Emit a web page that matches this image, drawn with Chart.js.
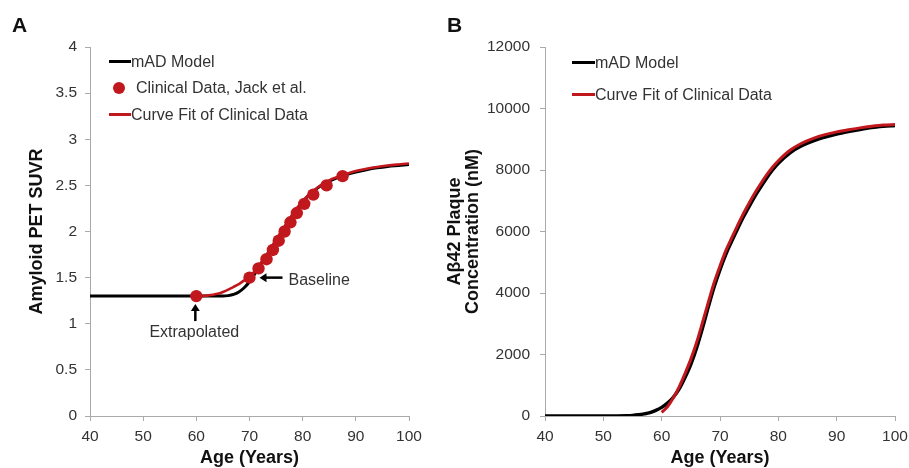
<!DOCTYPE html>
<html>
<head>
<meta charset="utf-8">
<script src="https://cdn.jsdelivr.net/npm/chart.js@4"></script>
<style>
  html, body { margin:0; padding:0; background:#fff; }
  body { width:909px; height:468px; position:relative; overflow:hidden; font-family:"Liberation Sans", Arial, sans-serif; }
  .wrap { position:absolute; top:0; }
  .panel { position:absolute; font-weight:bold; font-size:21px; line-height:21px; color:#111; }
  .leg { position:absolute; font-size:16px; color:#333; white-space:nowrap; line-height:16px; }
  .sw { position:absolute; }
</style>
</head>
<body>
<div class="wrap" style="left:0;width:440px;height:468px;"><canvas id="cA"></canvas></div>
<div class="wrap" style="left:440px;width:469px;height:468px;"><canvas id="cB"></canvas></div>

<div class="panel" style="left:12px;top:14px;">A</div>
<div class="panel" style="left:447px;top:14px;">B</div>

<!-- legend A -->
<div class="sw" style="left:109px;top:60px;width:22px;height:3px;background:#000;"></div>
<div class="leg" style="left:131px;top:54px;">mAD Model</div>
<div class="sw" style="left:113px;top:82px;width:12px;height:12px;border-radius:6px;background:#c1181e;"></div>
<div class="leg" style="left:136px;top:80px;">Clinical Data, Jack et al.</div>
<div class="sw" style="left:109px;top:113px;width:22px;height:3px;background:#c1181e;"></div>
<div class="leg" style="left:131px;top:107px;">Curve Fit of Clinical Data</div>

<!-- legend B -->
<div class="sw" style="left:572px;top:61px;width:23px;height:3px;background:#000;"></div>
<div class="leg" style="left:595px;top:55px;">mAD Model</div>
<div class="sw" style="left:572px;top:93px;width:23px;height:3px;background:#c1181e;"></div>
<div class="leg" style="left:595px;top:87px;">Curve Fit of Clinical Data</div>

<script>
// ---------- Data ----------
// Panel A: Amyloid PET SUVR vs age
const agesModelA = [40,45,50,55,60,62,64,65,66,67,68,69,70,71,72,73,74,75,76,77,78,79,80,81,82,83,84,85,86,87,88,90,92,94,96,98,100];
const suvrModelA = [1.30,1.30,1.30,1.30,1.30,1.30,1.30,1.30,1.305,1.318,1.345,1.39,1.455,1.54,1.63,1.72,1.81,1.90,1.99,2.08,2.17,2.25,2.32,2.385,2.435,2.48,2.515,2.545,2.57,2.592,2.612,2.645,2.67,2.69,2.705,2.715,2.725];

const agesFitA = [60,61,62,63,64,65,66,67,68,69,70,71,72,73,74,75,76,77,78,79,80,81,82,83,84,85,86,87,88,90,92,94,96,98,100];
const suvrFitA = [1.30,1.30,1.305,1.315,1.325,1.345,1.37,1.40,1.43,1.47,1.51,1.57,1.65,1.73,1.82,1.91,2.00,2.09,2.18,2.26,2.33,2.39,2.44,2.485,2.525,2.555,2.58,2.60,2.62,2.655,2.68,2.70,2.715,2.727,2.738];

const agesClinA = [60,70,71.7,73.2,74.4,75.5,76.6,77.7,78.9,80.3,82.0,84.5,87.5];
const suvrClinA = [1.3,1.5,1.6,1.7,1.8,1.9,2.0,2.1,2.2,2.3,2.4,2.5,2.6];

// Panel B: Abeta42 plaque concentration (nM) vs age
const agesModelB = [40,45,50,52,54,55,56,57,58,59,60,61,62,63,64,65,66,67,68,69,70,71,72,73,74,75,76,77,78,79,80,82,84,86,88,90,92,94,96,98,100];
const concModelB = [0,0,0,3,10,20,40,70,110,180,280,420,610,880,1250,1680,2220,2860,3550,4200,4760,5260,5680,6080,6470,6820,7150,7450,7740,8000,8220,8560,8790,8950,9070,9170,9250,9320,9380,9420,9450];

const agesFitB = [60,61,62,63,64,65,66,67,68,69,70,71,72,73,74,75,76,77,78,79,80,82,84,86,88,90,92,94,96,98,100];
const concFitB = [120,300,590,950,1380,1850,2400,3040,3700,4340,4880,5380,5790,6190,6580,6930,7260,7560,7840,8090,8300,8640,8870,9030,9150,9240,9310,9370,9420,9460,9480];

const xTicks = [40,50,60,70,80,90,100];
const yTicksA = [0,0.5,1,1.5,2,2.5,3,3.5,4];
const yTicksB = [0,2000,4000,6000,8000,10000,12000];

const RED = '#c1181e';
const FONT = '"Liberation Sans", Arial, sans-serif';
const zip = (xs, ys) => xs.map((x, i) => ({x, y: ys[i]}));

function axisCommon(ticks) {
  return {
    grid: { drawOnChartArea:false, drawTicks:true, tickLength:5, color:'#aaaaaa', lineWidth:1 },
    border: { color:'#aaaaaa', width:1 },
    ticks: { color:'#333', font:{ family:FONT, size:15.5 }, autoSkip:false, maxRotation:0 },
    afterBuildTicks: (s) => { s.ticks = ticks.map(v => ({value:v})); }
  };
}

function makeX() {
  const a = axisCommon(xTicks);
  return Object.assign(a, {
    type:'linear', min:40, max:100,
    ticks: Object.assign(a.ticks, { padding:6, callback:v => String(v) }),
    title: { display:true, text:'Age (Years)', color:'#111', font:{ family:FONT, size:18, weight:'bold', lineHeight:1.1 }, padding:{top:0,bottom:0} },
    afterFit: (s) => { s.height = 52; s.paddingLeft = 0; s.paddingRight = 0; }
  });
}

// annotation plugin for panel A (arrows + labels anchored to data points)
const annotA = {
  id:'annotA',
  afterDatasetsDraw(chart) {
    const {ctx, scales:{x, y}} = chart;
    ctx.save();
    ctx.fillStyle = '#000'; ctx.strokeStyle = '#000'; ctx.lineWidth = 2.5;
    // Extrapolated: up arrow below point (60, 1.3)
    const ex = x.getPixelForValue(60) - 1, ey = y.getPixelForValue(1.3);
    ctx.beginPath(); ctx.moveTo(ex, ey + 25); ctx.lineTo(ex, ey + 13); ctx.stroke();
    ctx.beginPath(); ctx.moveTo(ex, ey + 8); ctx.lineTo(ex - 4.5, ey + 15); ctx.lineTo(ex + 4.5, ey + 15); ctx.closePath(); ctx.fill();
    ctx.font = '16px ' + FONT; ctx.fillStyle = '#333'; ctx.textAlign = 'center'; ctx.textBaseline = 'middle';
    ctx.fillText('Extrapolated', ex - 1, ey + 37);
    // Baseline: left arrow right of point (70, 1.5)
    const bx = x.getPixelForValue(70) + 10, by = y.getPixelForValue(1.5);
    ctx.fillStyle = '#000';
    ctx.beginPath(); ctx.moveTo(bx + 23, by); ctx.lineTo(bx + 6, by); ctx.stroke();
    ctx.beginPath(); ctx.moveTo(bx, by); ctx.lineTo(bx + 7, by - 4.5); ctx.lineTo(bx + 7, by + 4.5); ctx.closePath(); ctx.fill();
    ctx.fillStyle = '#333'; ctx.textAlign = 'left';
    ctx.fillText('Baseline', bx + 29, by + 3);
    ctx.restore();
  }
};

Chart.defaults.font.family = FONT;

// ---------- Panel A ----------
const yA = axisCommon(yTicksA);
new Chart(document.getElementById('cA'), {
  type:'line',
  data:{ datasets:[
    { label:'Clinical Data, Jack et al.', data:zip(agesClinA, suvrClinA), showLine:false, pointRadius:6.2, pointBackgroundColor:RED, pointBorderColor:RED, pointBorderWidth:0, order:0 },
    { label:'Curve Fit of Clinical Data', data:zip(agesFitA, suvrFitA), borderColor:RED, borderWidth:2.6, pointRadius:0, cubicInterpolationMode:'monotone', order:1 },
    { label:'mAD Model', data:zip(agesModelA, suvrModelA), borderColor:'#000', borderWidth:3, pointRadius:0, cubicInterpolationMode:'monotone', order:2 }
  ]},
  options:{
    responsive:true, maintainAspectRatio:false, animation:false,
    layout:{ padding:{ left:0, right:31, top:47, bottom:0 } },
    plugins:{ legend:{display:false}, tooltip:{enabled:false} },
    scales:{
      x: makeX(),
      y: Object.assign(yA, {
        type:'linear', min:0, max:4,
        ticks: Object.assign(yA.ticks, { padding:8, callback:v => String(v) }),
        title:{ display:true, text:'Amyloid PET SUVR', color:'#111', font:{ family:FONT, size:18, weight:'bold', lineHeight:1.2 }, padding:{top:26, bottom:0} },
        afterFit:(s) => { s.width = 90; }
      })
    }
  },
  plugins:[annotA]
});

// ---------- Panel B ----------
const yB = axisCommon(yTicksB);
new Chart(document.getElementById('cB'), {
  type:'line',
  data:{ datasets:[
    { label:'Curve Fit of Clinical Data', data:zip(agesFitB, concFitB), borderColor:RED, borderWidth:3, pointRadius:0, cubicInterpolationMode:'monotone', order:1 },
    { label:'mAD Model', data:zip(agesModelB, concModelB), borderColor:'#000', borderWidth:3.5, pointRadius:0, cubicInterpolationMode:'monotone', order:2 }
  ]},
  options:{
    responsive:true, maintainAspectRatio:false, animation:false,
    layout:{ padding:{ left:0, right:14, top:47, bottom:0 } },
    plugins:{ legend:{display:false}, tooltip:{enabled:false} },
    scales:{
      x: makeX(),
      y: Object.assign(yB, {
        type:'linear', min:0, max:12000,
        ticks: Object.assign(yB.ticks, { padding:10, callback:v => String(v) }),
        title:{ display:true, text:['A\u03B242 Plaque','Concentration (nM)'], color:'#111', font:{ family:FONT, size:18, weight:'bold', lineHeight:1.0 }, padding:{top:6, bottom:0} },
        afterFit:(s) => { s.width = 105; }
      })
    }
  }
});
</script>
</body>
</html>
